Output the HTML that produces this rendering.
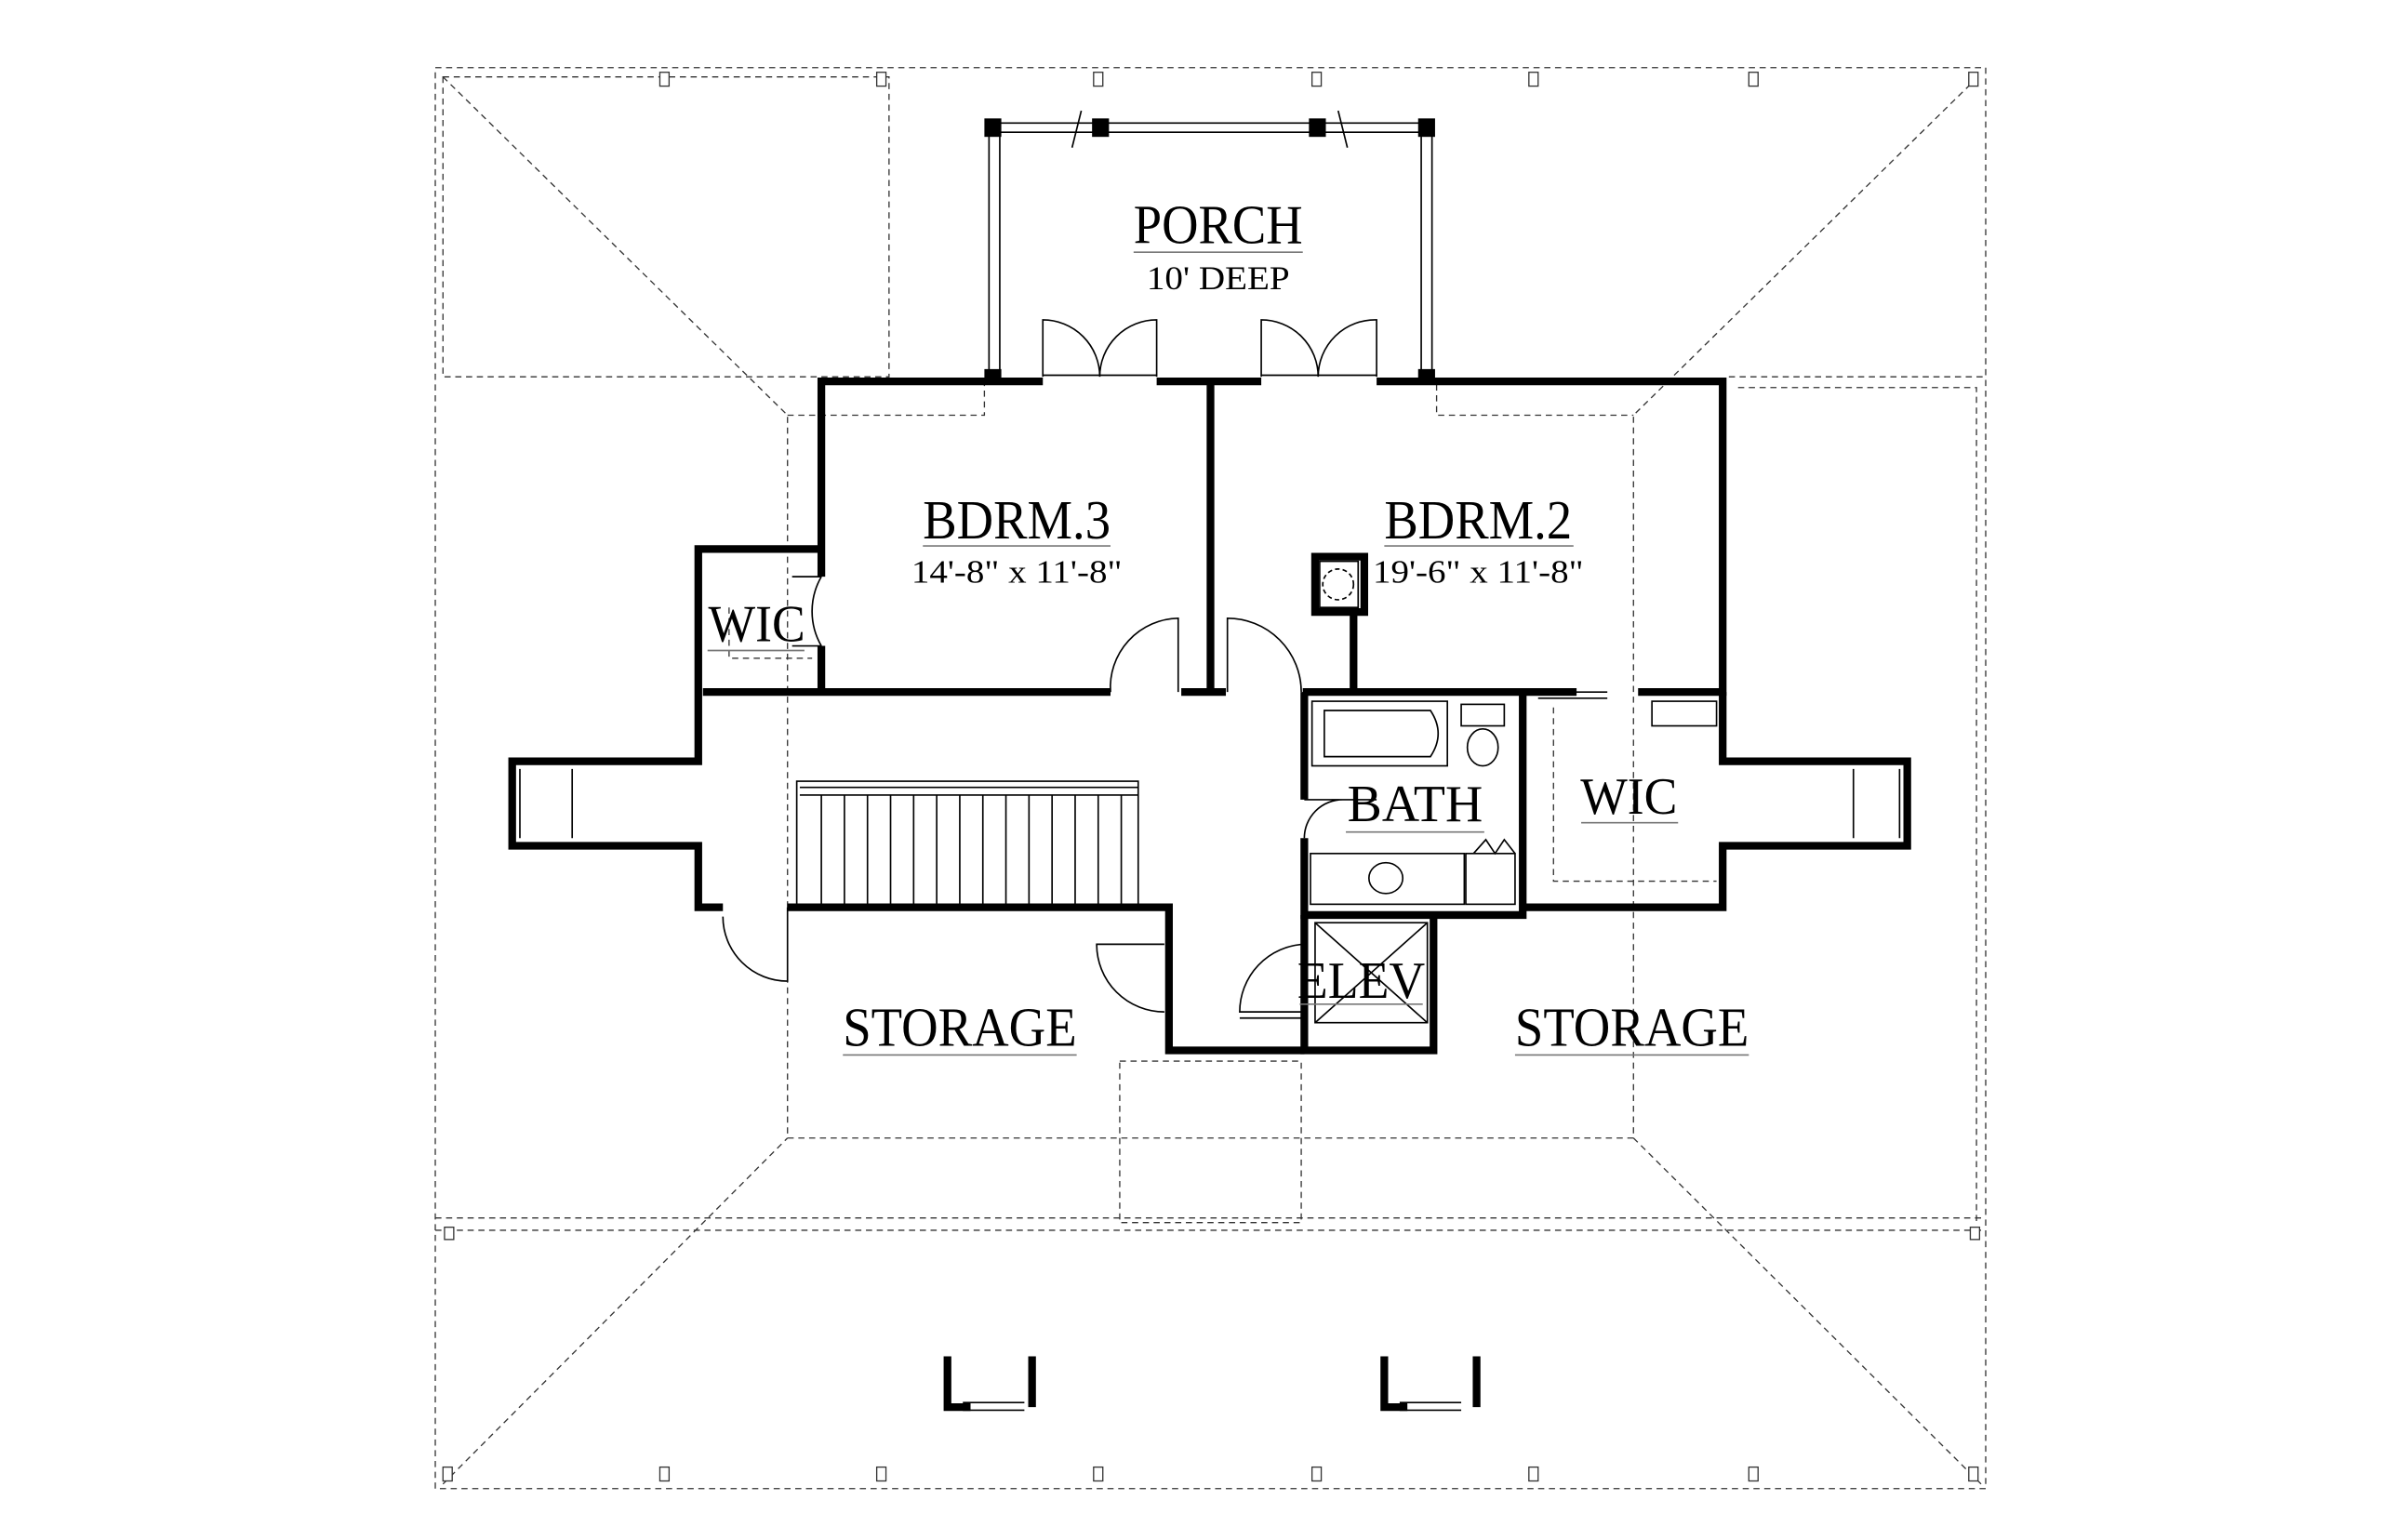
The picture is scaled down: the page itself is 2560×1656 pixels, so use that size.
<!DOCTYPE html>
<html><head><meta charset="utf-8"><style>
html,body{margin:0;padding:0;background:#fff}
svg{display:block}
text{font-family:"Liberation Serif",serif;fill:#000;text-anchor:middle}
</style></head><body>
<svg width="2560" height="1656" viewBox="0 0 1548 1001.4" preserveAspectRatio="none" xmlns="http://www.w3.org/2000/svg">
<rect width="1548" height="1002" fill="#fff"/>
<g fill="none" stroke="#333" stroke-width="0.8" stroke-dasharray="4,3">
<rect x="283" y="44" width="1008" height="924"/>
<rect x="288" y="50" width="290" height="195"/>
<path d="M288 50 L512 270 L512 740 L1062 740 L1062 270 L1286 50"/>
<path d="M288 965 L512 740 M1288 965 L1062 740"/>
<path d="M1124 245 L1291 245 M1130 252 L1285 252 L1285 795"/>
<path d="M283 792 L1291 792 M283 800 L1291 800"/>
<rect x="728" y="690" width="118" height="105"/>
<path d="M512 270 L640 270 L640 250 M934 250 L934 270 L1062 270"/>
<path d="M474 395 L474 428 L528 428 M1010 460 L1010 573 L1116 573"/>
</g>
<g fill="#fff" stroke="#333" stroke-width="0.8">
<rect x="429" y="47" width="6" height="9"/><rect x="570" y="47" width="6" height="9"/><rect x="711" y="47" width="6" height="9"/><rect x="853" y="47" width="6" height="9"/><rect x="994" y="47" width="6" height="9"/><rect x="1137" y="47" width="6" height="9"/><rect x="1280" y="47" width="6" height="9"/>
<rect x="288" y="954" width="6" height="9"/><rect x="429" y="954" width="6" height="9"/><rect x="570" y="954" width="6" height="9"/><rect x="711" y="954" width="6" height="9"/><rect x="853" y="954" width="6" height="9"/><rect x="994" y="954" width="6" height="9"/><rect x="1137" y="954" width="6" height="9"/><rect x="1280" y="954" width="6" height="9"/>
<rect x="289" y="798" width="6" height="8"/><rect x="1281" y="798" width="6" height="8"/>
</g>
<g fill="none" stroke="#000" stroke-width="1">
<path d="M643 80 L643 245 M650 80 L650 245 M924 80 L924 245 M931 80 L931 245"/>
<path d="M650 80 L924 80 M650 86 L924 86"/>
<path d="M703 72 L697 96 M870 72 L876 96"/>
<path d="M678 245 L678 208 A37 37 0 0 1 715 245 M752 245 L752 208 A37 37 0 0 0 715 245"/>
<path d="M820 245 L820 208 A37 37 0 0 1 857 245 M895 245 L895 208 A37 37 0 0 0 857 245"/>
<path d="M678 244 L752 244 M820 244 L895 244"/>
<path d="M766 450 L766 402 A45 45 0 0 0 722 450"/>
<path d="M798 450 L798 402 A48 48 0 0 1 846 450"/>
<path d="M534 375 A45 45 0 0 0 534 420"/>
<path d="M515 375 L534 375 M515 420 L534 420"/>
<path d="M848 545 A25 25 0 0 1 873 520 L895 520 M848 520 L873 520"/>
<path d="M512 590 L512 638 A42 42 0 0 1 470 596"/>
<path d="M757 614 L713 614 A44 44 0 0 0 757 658"/>
<path d="M848 614 A44 44 0 0 0 806 658 L848 658 M806 662 L848 662"/>
<path d="M1000 450 L1045 450 M1000 454 L1045 454"/>
<rect x="853" y="456" width="88" height="42"/>
<path d="M861 462 L930 462 Q940 477 930 492 L861 492 Z"/>
<rect x="950" y="458" width="28" height="14"/><ellipse cx="964" cy="486" rx="10" ry="12"/>
<rect x="852" y="555" width="100" height="33"/><ellipse cx="901" cy="571" rx="11" ry="10"/>
<rect x="953" y="555" width="32" height="33"/>
<path d="M958 555 L966 546 L972 555 L978 546 L985 555"/>
<rect x="855" y="600" width="73" height="65"/>
<path d="M855 600 L928 665 M928 600 L855 665"/>
<rect x="858" y="365" width="25" height="30"/><circle cx="870" cy="380" r="10" stroke-dasharray="3,2"/>
<rect x="1074" y="456" width="42" height="16"/>
<rect x="518" y="508" width="222" height="82"/>
<path d="M520 512 L740 512 M520 517 L740 517"/>
<path d="M534 517V590M549 517V590M564 517V590M579 517V590M594 517V590M609 517V590M624 517V590M639 517V590M654 517V590M669 517V590M684 517V590M699 517V590M714 517V590M729 517V590"/>
<path d="M338 500 L338 545 M372 500 L372 545 M1205 500 L1205 545 M1235 500 L1235 545"/>
<path d="M626 917 L666 917 M626 912 L666 912 M910 917 L950 917 M910 912 L950 912"/>
</g>
<g fill="none" stroke="#000" stroke-width="5" stroke-linejoin="miter">
<path d="M678 248 L534 248 L534 375 M534 420 L534 450"/>
<path d="M752 248 L820 248 M895 248 L1120 248 L1120 450 L1065 450"/>
<path d="M534 357 L454 357 L454 495 L333 495 L333 550 L454 550 L454 590 L470 590"/>
<path d="M457 450 L722 450 M768 450 L797 450 M787 248 L787 450 M847 450 L1025 450"/>
<path d="M512 590 L760 590 L760 683 L848 683"/>
<path d="M848 450 L848 520 M848 545 L848 595 L990 595 L990 450"/>
<path d="M848 595 L848 683 L932 683 L932 595"/>
<path d="M990 590 L1120 590 L1120 550 L1240 550 L1240 495 L1120 495 L1120 450"/>
<path d="M855 362 L887 362 L887 398 L855 398 Z M880 398 L880 450"/>
<path d="M616 882 L616 915 L631 915 M671 882 L671 915 M900 882 L900 915 L915 915 M960 882 L960 915"/>
</g>
<g fill="#000">
<rect x="640" y="77" width="11" height="12"/><rect x="710" y="77" width="11" height="12"/><rect x="851" y="77" width="11" height="12"/><rect x="922" y="77" width="11" height="12"/>
<rect x="640" y="240" width="11" height="9"/><rect x="922" y="240" width="11" height="9"/>
</g>
<g>
<text x="792" y="158" font-size="36" textLength="110" lengthAdjust="spacingAndGlyphs">PORCH</text>
<text x="792" y="188" font-size="22" textLength="93" lengthAdjust="spacingAndGlyphs">10' DEEP</text>
<text x="661" y="350" font-size="36" textLength="122" lengthAdjust="spacingAndGlyphs">BDRM.3</text>
<text x="661" y="379" font-size="21" textLength="137" lengthAdjust="spacingAndGlyphs">14'-8" x 11'-8"</text>
<text x="961" y="350" font-size="36" textLength="122" lengthAdjust="spacingAndGlyphs">BDRM.2</text>
<text x="961" y="379" font-size="21" textLength="137" lengthAdjust="spacingAndGlyphs">19'-6" x 11'-8"</text>
<text x="492" y="417" font-size="34" textLength="63" lengthAdjust="spacingAndGlyphs">WIC</text>
<text x="920" y="534" font-size="34" textLength="88" lengthAdjust="spacingAndGlyphs">BATH</text>
<text x="1059" y="529" font-size="34" textLength="63" lengthAdjust="spacingAndGlyphs">WIC</text>
<text x="885" y="649" font-size="34" textLength="83" lengthAdjust="spacingAndGlyphs">ELEV</text>
<text x="624" y="680" font-size="36" textLength="152" lengthAdjust="spacingAndGlyphs">STORAGE</text>
<text x="1061" y="680" font-size="36" textLength="152" lengthAdjust="spacingAndGlyphs">STORAGE</text>
</g>
<g stroke="#777" stroke-width="1">
<path d="M737 164 L847 164 M600 355 L722 355 M900 355 L1023 355 M460 423 L523 423 M875 541 L965 541 M1028 535 L1091 535 M845 653 L925 653 M548 686 L700 686 M985 686 L1137 686"/>
</g>
</svg>
</body></html>
